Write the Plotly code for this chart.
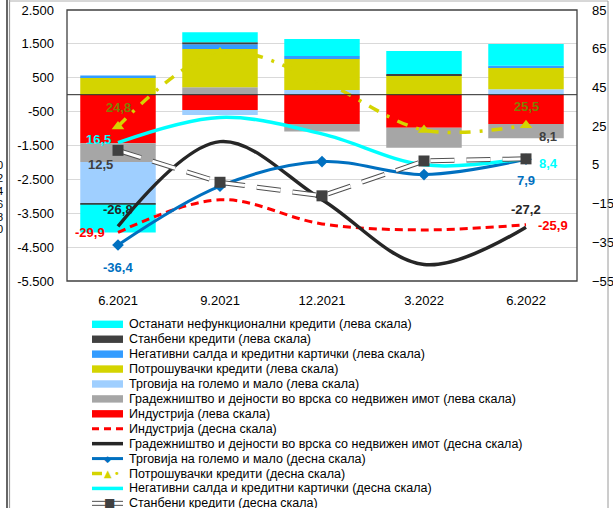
import plotly.graph_objects as go

# ---------------------------------------------------------------- data
categories = ["6.2021", "9.2021", "12.2021", "3.2022", "6.2022"]

# Stacked components, left scale
industry_bar = [-1430, -450, -865, -975, -865]
construction_bar = [-560, 220, -225, -590, -420]
trade_bar = [-1230, -150, 140, 0, 160]
consumer_bar = [515, 1130, 915, 580, 650]
overdraft_bar = [50, 140, 90, 0, 45]
housing_bar = [-30, 60, 0, 30, 0]
other_npl_bar = [-820, 295, 500, 680, 640]

# Lines, right scale
industry_line = [-29.9, -13.0, -25.5, -28.6, -25.9]
construction_line = [-26.8, 17.0, -13.0, -46.5, -27.2]
trade_line = [-36.4, -6.0, 6.7, 0.0, 7.9]
consumer_line = [24.8, 63.0, 48.0, 23.0, 25.5]
overdraft_line = [16.5, 29.5, 21.0, 5.0, 8.4]
housing_line = [12.5, -4.0, -11.0, 7.0, 8.1]

left_ticks = [2500, 1500, 500, -500, -1500, -2500, -3500, -4500, -5500]
left_tick_text = ["2.500", "1.500", "500", "-500", "-1.500", "-2.500", "-3.500", "-4.500", "-5.500"]
right_ticks = [85, 65, 45, 25, 5, -15, -35, -55]

name_other = "Останати нефункционални кредити"
name_housing = "Станбени кредити"
name_overdraft = "Негативни салда и кредитни картички"
name_consumer = "Потрошувачки кредити"
name_trade = "Трговија на големо и мало"
name_construction = "Градежништво и дејности во врска со недвижен имот"
name_industry = "Индустрија"
left_tag = " (лева скала)"
right_tag = " (десна скала)"

# ---------------------------------------------------------------- styles
C_OTHER = "#00FFFF"
C_HOUSING = "#404040"
C_OVERDRAFT = "#339CFF"
C_CONSUMER = "#D4D400"
C_TRADE_BAR = "#9FCFFF"
C_CONSTR_BAR = "#A6A6A6"
C_INDUSTRY = "#FF0000"
C_TRADE_LINE = "#0070C0"
C_CONSTR_LINE = "#262626"
C_OLIVE = "#7F7F00"
C_OUTLINE = "#505050"

FONT = "Liberation Sans, Arial, sans-serif"

# plot-area geometry in pixels (used for the hand-built legend and frame)
W, H = 613, 508
L, R, T, B = 67, 577, 10, 281


def px_x(px):
    return (px - L) / (R - L)


def px_y(py):
    return (B - py) / (B - T)


fig = go.Figure()

# stacked columns: order defines stacking distance from zero
bar_series = [
    (name_industry, industry_bar, C_INDUSTRY),
    (name_construction, construction_bar, C_CONSTR_BAR),
    (name_trade, trade_bar, C_TRADE_BAR),
    (name_consumer, consumer_bar, C_CONSUMER),
    (name_overdraft, overdraft_bar, C_OVERDRAFT),
    (name_housing, housing_bar, C_HOUSING),
    (name_other, other_npl_bar, C_OTHER),
]
for name, vals, col in bar_series:
    fig.add_bar(x=categories, y=vals, name=name + left_tag, marker=dict(color=col, line_width=0),
                yaxis="y", showlegend=False)

# right-scale lines
fig.add_scatter(x=categories, y=industry_line, yaxis="y2", mode="lines", showlegend=False,
                line=dict(color=C_INDUSTRY, width=3, dash="8px,5px", shape="spline"))
fig.add_scatter(x=categories, y=construction_line, yaxis="y2", mode="lines", showlegend=False,
                line=dict(color=C_CONSTR_LINE, width=3.5, shape="spline"))
fig.add_scatter(x=categories, y=trade_line, yaxis="y2", mode="lines+markers", showlegend=False,
                line=dict(color=C_TRADE_LINE, width=3, shape="spline"),
                marker=dict(symbol="diamond", size=9, color=C_TRADE_LINE))
fig.add_scatter(x=categories, y=consumer_line, yaxis="y2", mode="lines+markers", showlegend=False,
                line=dict(color=C_CONSUMER, width=3.5, dash="11px,9px,3px,9px", shape="spline"),
                marker=dict(symbol="triangle-up", size=11, color=C_CONSUMER))
fig.add_scatter(x=categories, y=overdraft_line, yaxis="y2", mode="lines", showlegend=False,
                line=dict(color=C_OTHER, width=3.5, shape="spline"))
fig.add_scatter(x=categories, y=housing_line, yaxis="y2", mode="lines", showlegend=False,
                line=dict(color=C_OUTLINE, width=5, dash="24px,12px"))
fig.add_scatter(x=categories, y=housing_line, yaxis="y2", mode="lines", showlegend=False,
                line=dict(color="white", width=3, dash="24px,12px"))
fig.add_scatter(x=categories, y=housing_line, yaxis="y2", mode="markers", showlegend=False,
                marker=dict(symbol="square", size=11, color=C_HOUSING))


def fmt(v):
    return f"{v:.1f}".replace(".", ",")


# value labels at the first and last period (x given as category index)
label_specs = [
    (consumer_line, C_OLIVE, (0, 19), (0, 19)),
    (overdraft_line, C_OTHER, (-20, 3), (22, -5)),
    (housing_line, "#404040", (-18, -14), (22, 22)),
    (construction_line, C_CONSTR_LINE, (0, 17), (0, 18)),
    (industry_line, C_INDUSTRY, (-28, 0), (27, -1)),
    (trade_line, C_TRADE_LINE, (0, -22), (0, -21)),
]
annotations = []
for vals, col, first_off, last_off in label_specs:
    for idx, off in ((0, first_off), (len(categories) - 1, last_off)):
        annotations.append(dict(
            x=idx, y=vals[idx], xref="x", yref="y2",
            xanchor="center", yanchor="middle",
            text=f"<b>{fmt(vals[idx])}</b>", showarrow=False,
            xshift=off[0], yshift=off[1],
            font=dict(family=FONT, size=13, color=col)))

# ---------------------------------------------------------------- legend (hand-built, tight rows)
shapes = []
row0, row_step = 324.3, 14.92
sw_l, sw_r, txt_x = 92, 123, 127
legend_rows = [
    ("bar", name_other + left_tag, C_OTHER),
    ("bar", name_housing + left_tag, C_HOUSING),
    ("bar", name_overdraft + left_tag, C_OVERDRAFT),
    ("bar", name_consumer + left_tag, C_CONSUMER),
    ("bar", name_trade + left_tag, C_TRADE_BAR),
    ("bar", name_construction + left_tag, C_CONSTR_BAR),
    ("bar", name_industry + left_tag, C_INDUSTRY),
    ("dash", name_industry + right_tag, C_INDUSTRY),
    ("solid", name_construction + right_tag, C_CONSTR_LINE),
    ("diamond", name_trade + right_tag, C_TRADE_LINE),
    ("dashdot", name_consumer + right_tag, C_CONSUMER),
    ("solid", name_overdraft + right_tag, C_OTHER),
    ("double", name_housing + right_tag, C_HOUSING),
]


def glyph(px, py, ch, size, col):
    return dict(x=px_x(px), y=px_y(py), xref="paper", yref="paper",
                xanchor="center", yanchor="middle", text=ch, showarrow=False,
                font=dict(size=size, color=col, family="DejaVu Sans"))


for i, (kind, text, col) in enumerate(legend_rows):
    yc = row0 + i * row_step
    mid = (sw_l + sw_r) / 2
    if kind == "bar":
        shapes.append(dict(type="rect", xref="paper", yref="paper",
                           x0=px_x(sw_l), x1=px_x(sw_r), y0=px_y(yc + 3.7), y1=px_y(yc - 3.7),
                           fillcolor=col, line_width=0))
    else:
        def seg(color, width, dash="solid", x0=sw_l, x1=sw_r):
            return dict(type="line", xref="paper", yref="paper",
                        x0=px_x(x0), x1=px_x(x1), y0=px_y(yc), y1=px_y(yc),
                        line=dict(color=color, width=width, dash=dash))
        if kind == "dash":
            shapes.append(seg(col, 3, "7px,5px"))
        elif kind == "solid":
            shapes.append(seg(col, 3.5))
        elif kind == "diamond":
            shapes.append(seg(col, 3))
            annotations.append(glyph(mid, yc, "◆", 9, col))
        elif kind == "dashdot":
            shapes.append(seg(col, 3.5, x0=sw_l, x1=sw_l + 10))
            annotations.append(glyph(mid, yc, "▲", 10, col))
            annotations.append(glyph(sw_r - 6, yc, "•", 10, col))
        elif kind == "double":
            shapes.append(seg(C_OUTLINE, 5))
            shapes.append(seg("white", 3))
            annotations.append(glyph(mid + 2, yc, "■", 12, col))
    annotations.append(dict(x=px_x(txt_x), y=px_y(yc), xref="paper", yref="paper",
                            xanchor="left", yanchor="middle", text=text, showarrow=False,
                            font=dict(family=FONT, size=12.5, color="black")))

# zero line and plot-area border
shapes.append(dict(type="line", xref="paper", x0=0, x1=1, yref="y", y0=0, y1=0,
                   line=dict(color="#262626", width=1), layer="above"))
shapes.append(dict(type="rect", xref="paper", yref="paper", x0=0, x1=1, y0=0, y1=1,
                   line=dict(color="#404040", width=1.3), layer="above"))

# outer frame of the chart object
shapes.append(dict(type="line", xref="paper", yref="paper", x0=px_x(7), x1=px_x(7),
                   y0=px_y(0), y1=px_y(H), line=dict(color="#000000", width=1.2)))
shapes.append(dict(type="line", xref="paper", yref="paper", x0=px_x(9.5), x1=px_x(9.5),
                   y0=px_y(0), y1=px_y(H), line=dict(color="#9A9A9A", width=1.2)))
shapes.append(dict(type="line", xref="paper", yref="paper", x0=px_x(9), x1=px_x(608),
                   y0=px_y(1), y1=px_y(1), line=dict(color="#B0B0B0", width=1)))
shapes.append(dict(type="line", xref="paper", yref="paper", x0=px_x(608), x1=px_x(608),
                   y0=px_y(1), y1=px_y(H), line=dict(color="#9A9A9A", width=1)))

# neighbouring chart's axis digits peeking in at the left edge
for d, yy in zip(["0", "2", "4", "6", "8", "0"], [165, 178, 191, 204, 217, 229]):
    annotations.append(dict(x=px_x(5), y=px_y(yy), xref="paper", yref="paper",
                            xanchor="right", yanchor="middle", text=d, showarrow=False,
                            font=dict(family=FONT, size=11, color="black")))

fig.update_layout(
    width=W, height=H,
    margin=dict(l=L, r=W - R, t=T, b=H - B, pad=0, autoexpand=False),
    plot_bgcolor="white", paper_bgcolor="white",
    barmode="relative", bargap=0.26,
    showlegend=False,
    font=dict(family=FONT, size=13, color="black"),
    xaxis=dict(type="category", categoryorder="array", categoryarray=categories,
               range=[-0.5, len(categories) - 0.5], automargin=False,
               showgrid=False, zeroline=False, showline=False, ticks="",
               ticklabelstandoff=10, tickfont=dict(size=13)),
    yaxis=dict(range=[-5500, 2500], tickvals=left_ticks, ticktext=left_tick_text,
               automargin=False,
               showgrid=True, gridcolor="#D9D9D9", gridwidth=1, zeroline=False,
               showline=False, ticks="", ticklabelstandoff=12, tickfont=dict(size=13)),
    yaxis2=dict(overlaying="y", side="right", range=[-55, 85], tickvals=right_ticks,
                automargin=False,
                showgrid=False, zeroline=False, showline=False, ticks="",
                ticklabelstandoff=14, tickfont=dict(size=13)),
    shapes=shapes,
    annotations=annotations,
)

fig.write_html("out.html")
